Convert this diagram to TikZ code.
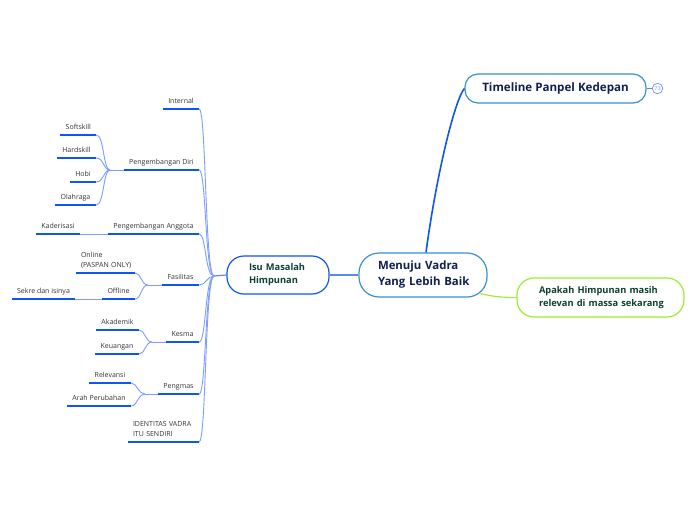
\documentclass[tikz,border=0pt]{standalone}
\usepackage{fontspec}
\setmainfont{Open Sans}
\definecolor{linedark}{HTML}{0F55F0}
\definecolor{linelight}{HTML}{7A9DFF}
\definecolor{roundblue}{HTML}{3A8FD0}
\definecolor{limegreen}{HTML}{9BEE30}
\definecolor{navytext}{HTML}{10204F}
\definecolor{greentext}{HTML}{0D4030}
\tikzset{
  label/.style={anchor=south, inner xsep=0pt, inner ysep=4pt, text=black!80,
    font=\fontsize{7}{10}\selectfont, text height=5.5pt, text depth=1.5pt},
  uline/.style={draw=linedark, line width=1.8pt},
  thin link/.style={draw=linelight, line width=0.9pt},
  main link/.style={draw=linedark!70!white, line width=1.2pt},
  topic/.style={draw, fill=white, line width=1.2pt, align=left, inner xsep=0pt, inner ysep=0pt}
}
\begin{document}
\begin{tikzpicture}[x=1pt,y=-1pt]
 \useasboundingbox (0,0) rectangle (696,520);

 \coordinate (hub) at (214,276);
 \coordinate (hubdiri) at (110,170);
 \coordinate (hubfasilitas) at (148,285);
 \coordinate (hubkesma) at (152,342);
 \coordinate (hubpengmas) at (145,394);

 \node (internal) [label, minimum width=36pt] at (181,109) {Internal};
 \node (diri) [label, minimum width=75pt] at (161.5,170) {Pengembangan Diri};
 \node (softskill) [label, minimum width=35.5pt] at (78.3,135) {Softskill};
 \node (hardskill) [label, minimum width=39pt] at (76.5,158) {Hardskill};
 \node (hobi) [label, minimum width=26pt] at (83,182) {Hobi};
 \node (olahraga) [label, minimum width=41pt] at (75.5,205) {Olahraga};
 \node (anggota) [label, minimum width=91pt] at (153.5,234) {Pengembangan Anggota};
 \node (kaderisasi) [label, minimum width=44pt] at (58,234) {Kaderisasi};
 \node (fasilitas) [label, minimum width=37pt] at (180.5,285) {Fasilitas};
 \node (online) [label, minimum width=59pt, align=left, text width=49pt, text depth=11.5pt] at (105.5,273) {Online\\\mbox{(PASPAN ONLY)}};
 \node (offline) [label, minimum width=33pt] at (118.5,299) {Offline};
 \node (sekre) [label, minimum width=63pt] at (43.5,299) {Sekre dan isinya};
 \node (kesma) [label, minimum width=33pt] at (182.5,342) {Kesma};
 \node (akademik) [label, minimum width=43pt] at (117.5,330) {Akademik};
 \node (keuangan) [label, minimum width=44pt] at (117,354) {Keuangan};
 \node (pengmas) [label, minimum width=41pt] at (178.5,394) {Pengmas};
 \node (relevansi) [label, minimum width=42pt] at (110,383) {Relevansi};
 \node (arah) [label, minimum width=64pt] at (99,406) {Arah Perubahan};
 \node (identitas) [label, minimum width=71pt, align=left, text width=61pt, text depth=11.5pt] at (163.5,442) {IDENTITAS VADRA\\ITU SENDIRI};

 \draw [thin link] (internal.south east) .. controls +(7,0) and +(-9,0) .. (hub);
 \draw [thin link] (diri.south east) .. controls +(7,0) and +(-9,0) .. (hub);
 \draw [thin link] (anggota.south east) .. controls +(7,0) and +(-9,0) .. (hub);
 \draw [thin link] (fasilitas.south east) .. controls +(7,0) and +(-7,0) .. (hub);
 \draw [thin link] (kesma.south east) .. controls +(7,0) and +(-9,0) .. (hub);
 \draw [thin link] (pengmas.south east) .. controls +(7,0) and +(-9,0) .. (hub);
 \draw [thin link] (identitas.south east) .. controls +(7,0) and +(-9,0) .. (hub);

 \draw [thin link] (hubdiri) -- (diri.south west);
 \draw [thin link] (softskill.south east) .. controls +(8,0) and +(-7,0) .. (hubdiri);
 \draw [thin link] (hardskill.south east) .. controls +(8,0) and +(-7,0) .. (hubdiri);
 \draw [thin link] (hobi.south east) .. controls +(8,0) and +(-7,0) .. (hubdiri);
 \draw [thin link] (olahraga.south east) .. controls +(8,0) and +(-7,0) .. (hubdiri);
 \draw [thin link] (kaderisasi.south east) -- (anggota.south west);
 \draw [thin link] (hubfasilitas) -- (fasilitas.south west);
 \draw [thin link] (online.south east) .. controls +(6,0) and +(-7,0) .. (hubfasilitas);
 \draw [thin link] (offline.south east) .. controls +(6,0) and +(-7,0) .. (hubfasilitas);
 \draw [thin link] (sekre.south east) -- (offline.south west);
 \draw [thin link] (hubkesma) -- (kesma.south west);
 \draw [thin link] (akademik.south east) .. controls +(6,0) and +(-7,0) .. (hubkesma);
 \draw [thin link] (keuangan.south east) .. controls +(6,0) and +(-7,0) .. (hubkesma);
 \draw [thin link] (hubpengmas) -- (pengmas.south west);
 \draw [thin link] (relevansi.south east) .. controls +(6,0) and +(-7,0) .. (hubpengmas);
 \draw [thin link] (arah.south east) .. controls +(6,0) and +(-7,0) .. (hubpengmas);

 \draw [uline] (internal.south west) -- (internal.south east);
 \draw [uline] (diri.south west) -- (diri.south east);
 \draw [uline] (softskill.south west) -- (softskill.south east);
 \draw [uline] (hardskill.south west) -- (hardskill.south east);
 \draw [uline] (hobi.south west) -- (hobi.south east);
 \draw [uline] (olahraga.south west) -- (olahraga.south east);
 \draw [uline] (anggota.south west) -- (anggota.south east);
 \draw [uline] (kaderisasi.south west) -- (kaderisasi.south east);
 \draw [uline] (fasilitas.south west) -- (fasilitas.south east);
 \draw [uline] (online.south west) -- (online.south east);
 \draw [uline] (offline.south west) -- (offline.south east);
 \draw [uline] (sekre.south west) -- (sekre.south east);
 \draw [uline] (kesma.south west) -- (kesma.south east);
 \draw [uline] (akademik.south west) -- (akademik.south east);
 \draw [uline] (keuangan.south west) -- (keuangan.south east);
 \draw [uline] (pengmas.south west) -- (pengmas.south east);
 \draw [uline] (relevansi.south west) -- (relevansi.south east);
 \draw [uline] (arah.south west) -- (arah.south east);
 \draw [uline] (identitas.south west) -- (identitas.south east);

 \node (isu) [topic, draw=linedark, text=greentext, rounded corners=17pt, minimum width=102pt, minimum height=38pt, text width=58pt,
   font=\fontsize{9.3}{13}\selectfont\bfseries] at (278,275) {Isu Masalah\\Himpunan};
 \node (menuju) [topic, draw=roundblue, text=navytext, rounded corners=20pt, minimum width=128pt, minimum height=44pt, text width=90pt,
   font=\fontsize{11.4}{16}\selectfont\bfseries] at (423,275) {Menuju Vadra\\\mbox{Yang Lebih Baik}};
 \node (timeline) [topic, draw=roundblue, text=navytext, rounded corners=13pt, minimum width=181pt, minimum height=29pt, align=center,
   font=\fontsize{11.6}{14}\selectfont\bfseries] at (555.5,88.5) {Timeline Panpel Kedepan};
 \node (apakah) [topic, draw=limegreen, text=greentext, rounded corners=17pt, minimum width=167pt, minimum height=39pt, text width=123pt,
   font=\fontsize{9.3}{13}\selectfont\bfseries] at (600.5,297.5) {Apakah Himpunan masih\\\mbox{relevan di massa sekarang}};
 \node (count) [circle, draw=linelight, line width=0.8pt, minimum size=10.5pt, inner sep=0pt, text=linelight, font=\fontsize{5.5}{6}\selectfont] at (657.5,88.5) {73};

 \draw [main link] (hub) -- (isu.west);
 \draw [main link] (isu.east) -- (menuju.west);
 \draw [linedark, line width=1.6pt] ([xshift=3pt]menuju.north) .. controls +(10,-75) and +(-10,12) .. (timeline.west);
 \draw [limegreen, line width=1.2pt] ([xshift=-7pt,yshift=4pt]menuju.south east) .. controls +(12,3) and +(-14,0) .. (apakah.west);
 \draw [main link] (timeline.east) -- (count.west);
\end{tikzpicture}
\end{document}
